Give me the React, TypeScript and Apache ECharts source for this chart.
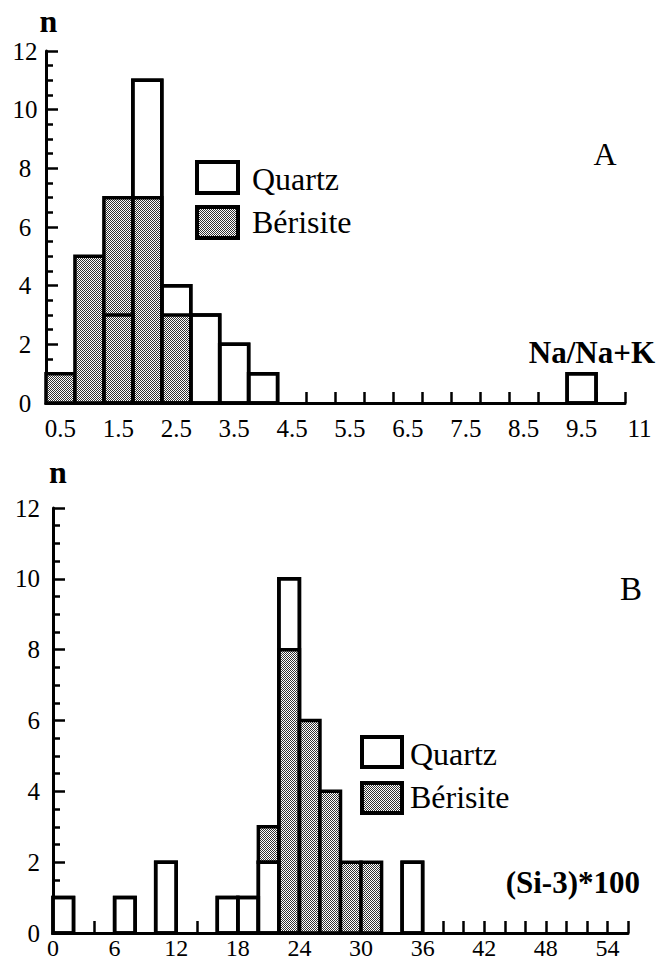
import React, { useEffect, useRef } from 'react';
import * as echarts from 'echarts';

const SERIF = 'Liberation Serif, Times New Roman, DejaVu Serif, serif';

// ---------- Panel A : Na/Na+K ----------
const aBinWidth = 0.5;
const aQuartzStarts = [1.25, 1.75, 2.25, 2.75, 3.25, 3.75, 9.25];
const aQuartzCounts = [3, 11, 4, 3, 2, 1, 1];
const aBerisiteStarts = [0.25, 0.75, 1.25, 1.75, 2.25];
const aBerisiteCounts = [1, 5, 7, 7, 3];
const aXLabelValues = [0.5, 1.5, 2.5, 3.5, 4.5, 5.5, 6.5, 7.5, 8.5, 9.5, 10.5];
const aXLabelTexts = ['0.5', '1.5', '2.5', '3.5', '4.5', '5.5', '6.5', '7.5', '8.5', '9.5', '11'];
const aXMin = 0.25;
const aXMax = 10.25;
const aXTickStep = 0.5;

// ---------- Panel B : (Si-3)*100 ----------
const bBinWidth = 2;
const bQuartzStarts = [0, 6, 10, 16, 18, 20, 22, 34];
const bQuartzCounts = [1, 1, 2, 1, 1, 2, 10, 2];
const bBerisiteStarts = [20, 22, 24, 26, 28, 30];
const bBerisiteCounts = [1, 8, 6, 4, 2, 2];
const bBerisiteBase = [2, 0, 0, 0, 0, 0];
const bXLabelValues = [0, 6, 12, 18, 24, 30, 36, 42, 48, 54];
const bXMin = 0;
const bXMax = 56;
const bXTickStep = 2;

const yMin = 0;
const yMax = 12;
const yLabelStep = 2;

function makePattern() {
  const c = document.createElement('canvas');
  c.width = 4;
  c.height = 4;
  const ctx = c.getContext('2d')!;
  ctx.fillStyle = '#ffffff';
  ctx.fillRect(0, 0, 4, 4);
  ctx.fillStyle = '#333333';
  for (let y = 0; y < 4; y++) {
    for (let x = 0; x < 4; x++) {
      if ((x + y) % 2 === 0) ctx.fillRect(x, y, 1, 1);
    }
  }
  return { image: c.toDataURL(), repeat: 'repeat', imageWidth: 4, imageHeight: 4 } as any;
}

function ticks(min: number, max: number, step: number) {
  const out: number[] = [];
  const n = Math.round((max - min) / step);
  for (let i = 0; i <= n; i++) out.push(+(min + i * step).toFixed(4));
  return out;
}

export default function App() {
  const ref = useRef<HTMLDivElement>(null);

  useEffect(() => {
    if (!ref.current) return;
    const chart = echarts.init(ref.current, undefined, { renderer: 'svg' });
    const pattern = makePattern();

    const rectRender = (fill: any) => (params: any, api: any) => {
      const p0 = api.coord([api.value(0), api.value(3)]);
      const p1 = api.coord([api.value(1), api.value(2)]);
      return {
        type: 'rect',
        shape: { x: p0[0], y: p0[1], width: p1[0] - p0[0], height: p1[1] - p0[1] },
        style: { fill, stroke: '#000', lineWidth: 3.5, lineJoin: 'miter' },
      };
    };

    const aQuartz = aQuartzStarts.map((s, i) => [s, s + aBinWidth, 0, aQuartzCounts[i]]);
    const aBer = aBerisiteStarts.map((s, i) => [s, s + aBinWidth, 0, aBerisiteCounts[i]]);
    const bQuartz = bQuartzStarts.map((s, i) => [s, s + bBinWidth, 0, bQuartzCounts[i]]);
    const bBer = bBerisiteStarts.map((s, i) => [
      s,
      s + bBinWidth,
      bBerisiteBase[i],
      bBerisiteBase[i] + bBerisiteCounts[i],
    ]);

    const custom = (data: number[][], fill: any, idx: number, z: number) => ({
      type: 'custom',
      xAxisIndex: idx,
      yAxisIndex: idx,
      data,
      encode: { x: [0, 1], y: [2, 3] },
      renderItem: rectRender(fill),
      silent: true,
      clip: false,
      z,
    });

    const axisLabelStyle = { color: '#000', fontFamily: SERIF, fontSize: 25 };

    const aLabelsIn = aXLabelValues.filter((v) => v <= aXMax);

    const yAxisCommon = (idx: number, labelCfg: any) => ({
      type: 'value',
      gridIndex: idx,
      min: yMin,
      max: yMax,
      interval: yLabelStep,
      axisLine: { show: true, lineStyle: { color: '#000', width: 3 } },
      axisTick: { show: true, inside: true, length: 12, lineStyle: { color: '#000', width: 2.5 } },
      minorTick: { show: true, splitNumber: 4, length: 7, lineStyle: { color: '#000', width: 2.5 } },
      splitLine: { show: false },
      minorSplitLine: { show: false },
      axisLabel: { ...axisLabelStyle, ...labelCfg },
    });

    const option: any = {
      animation: false,
      backgroundColor: '#fff',
      grid: [
        { left: 46, top: 51, width: 579, height: 352, containLabel: false, outerBoundsMode: 'none' },
        { left: 53, top: 508, width: 575, height: 425, containLabel: false, outerBoundsMode: 'none' },
      ],
      xAxis: [
        {
          type: 'value',
          gridIndex: 0,
          min: aXMin,
          max: aXMax,
          axisLine: { show: true, onZero: false, lineStyle: { color: '#000', width: 3 } },
          axisTick: {
            show: true,
            inside: true,
            length: 11,
            customValues: ticks(aXMin, aXMax, aXTickStep),
            lineStyle: { color: '#000', width: 2.5 },
          },
          splitLine: { show: false },
          axisLabel: {
            ...axisLabelStyle,
            margin: 13,
            customValues: aLabelsIn,
            showMinLabel: true,
            showMaxLabel: true,
            formatter: (v: number) => {
              const i = aXLabelValues.findIndex((x) => Math.abs(x - v) < 1e-6);
              return i >= 0 ? aXLabelTexts[i] : '';
            },
          },
        },
        {
          type: 'value',
          gridIndex: 1,
          min: bXMin,
          max: bXMax,
          axisLine: { show: true, onZero: false, lineStyle: { color: '#000', width: 3 } },
          axisTick: {
            show: true,
            inside: true,
            length: 12,
            customValues: ticks(bXMin, bXMax, bXTickStep),
            lineStyle: { color: '#000', width: 2.5 },
          },
          splitLine: { show: false },
          axisLabel: {
            ...axisLabelStyle,
            fontSize: 24,
            margin: 3,
            customValues: bXLabelValues,
            showMinLabel: true,
            formatter: (v: number) => String(v),
          },
        },
      ],
      yAxis: [
        yAxisCommon(0, { align: 'center', margin: 21 }),
        yAxisCommon(1, { align: 'right', margin: 13 }),
      ],
      series: [
        custom(aQuartz, '#fff', 0, 2),
        custom(aBer, pattern, 0, 3),
        custom(aQuartz, 'none', 0, 4),
        custom(bQuartz, '#fff', 1, 2),
        custom(bBer, pattern, 1, 3),
        custom(bQuartz, 'none', 1, 4),
      ],
    };

    chart.setOption(option);

    const extraLabels: any[] = [];
    aXLabelValues.forEach((v, i) => {
      if (v > aXMax) {
        const px = chart.convertToPixel({ xAxisIndex: 0 } as any, v) as unknown as number;
        const py = chart.convertToPixel({ yAxisIndex: 0 } as any, yMin) as unknown as number;
        extraLabels.push({
          type: 'text',
          style: {
            text: aXLabelTexts[i],
            x: px,
            y: py + 13,
            fontSize: 25,
            fontFamily: SERIF,
            fill: '#000',
            textAlign: 'center',
            textVerticalAlign: 'top',
          },
        });
      }
    });

    const txt = (
      text: string,
      x: number,
      y: number,
      size: number,
      bold: boolean,
      align = 'left'
    ) => ({
      type: 'text',
      style: {
        text,
        x,
        y,
        fontSize: size,
        fontWeight: bold ? 'bold' : 'normal',
        fontFamily: SERIF,
        fill: '#000',
        textAlign: align,
        textVerticalAlign: 'middle',
      },
    });
    const box = (x: number, y: number, w: number, h: number, fill: any) => ({
      type: 'rect',
      shape: { x, y, width: w, height: h },
      style: { fill, stroke: '#000', lineWidth: 4 },
    });

    chart.setOption({
      graphic: [
        ...extraLabels,
        txt('n', 48.5, 21, 32, true, 'center'),
        txt('n', 58, 472, 32, true, 'center'),
        txt('A', 605, 154, 32, false, 'center'),
        txt('B', 631, 589, 33, false, 'center'),
        txt('Na/Na+K', 655, 352, 31, true, 'right'),
        txt('(Si-3)*100', 640, 882, 31, true, 'right'),
        box(197, 162, 41, 31, '#fff'),
        box(197, 207, 41, 31, pattern),
        txt('Quartz', 252, 179, 32, false),
        txt('Bérisite', 252, 222, 32, false),
        box(362, 737, 40, 30, '#fff'),
        box(362, 783, 40, 30, pattern),
        txt('Quartz', 410, 754, 32, false),
        txt('Bérisite', 410, 797, 32, false),
      ],
    });

    return () => chart.dispose();
  }, []);

  return (
    <div
      ref={ref}
      style={{ position: 'absolute', left: 0, top: 0, width: 658, height: 960, background: '#fff' }}
    />
  );
}
